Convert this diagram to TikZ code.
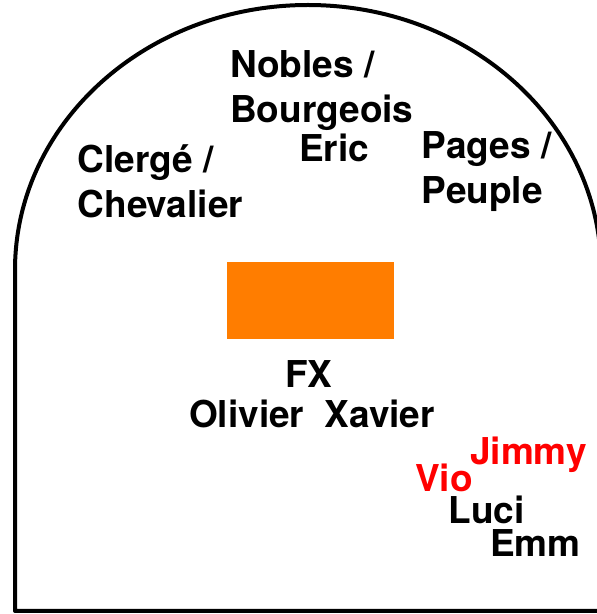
\documentclass[tikz,border=0pt]{standalone}
\usepackage{fontspec}
\setmainfont{TeX Gyre Heros}
\begin{document}
\begin{tikzpicture}[x=1pt,y=1pt,
  lbl/.style={anchor=base west,inner sep=0pt,align=left,
    font=\bfseries\fontsize{37}{45}\selectfont},
  redlbl/.style={lbl,text={rgb,255:red,255;green,0;blue,0}}]
\definecolor{orangefill}{RGB}{255,125,0}
\useasboundingbox (0,0) rectangle (597,614);
% tombstone outline
\draw[line width=4pt,line join=round] (15,344) arc[start angle=180,end angle=0,x radius=293,y radius=265]
  -- (601,3) -- (15,3) -- cycle;
% orange rectangle
\node[fill=orangefill,draw=none,minimum width=167pt,minimum height=77pt,inner sep=0pt,anchor=north west] (box) at (227,352) {};
% labels (multi-line nodes: base = last line)
\node[lbl] (nobles) at (230,491.5) {Nobles /\\Bourgeois};
\node[lbl] (eric) at (299,452) {Eric};
\node[lbl] (clerge) at (77.5,396.7) {Clergé /\\Chevalier};
\node[lbl] (pages) at (421.5,410) {Pages /\\Peuple};
\node[lbl] (fx) at (285,226) {FX};
\node[lbl] (olivier) at (189,186) {Olivier};
\node[lbl] (xavier) at (324.5,186) {Xavier};
\node[redlbl] (jimmy) at (470,149) {Jimmy};
\node[redlbl] (vio) at (415,122) {Vio};
\node[lbl] (luci) at (448.5,90) {Luci};
\node[lbl] (emm) at (490,57) {Emm};
\end{tikzpicture}
\end{document}
